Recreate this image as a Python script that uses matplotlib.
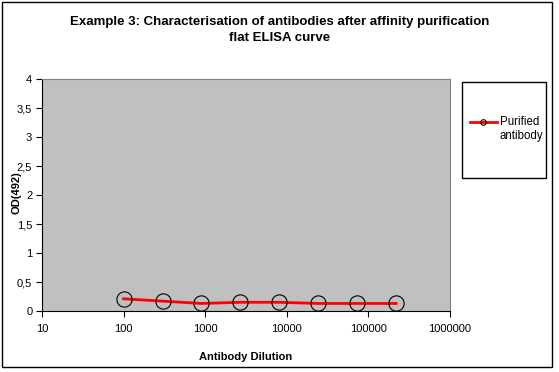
import matplotlib
matplotlib.use("Agg")
import matplotlib.pyplot as plt
from matplotlib.patches import Rectangle
from matplotlib.lines import Line2D
from matplotlib.ticker import FuncFormatter, FixedLocator, NullLocator

# data
dilution = [100, 300, 900, 2700, 8100, 24300, 72900, 218700]
od_492 = [0.21, 0.17, 0.13, 0.15, 0.15, 0.13, 0.13, 0.13]
x_ticks = [10, 100, 1000, 10000, 100000, 1000000]
y_ticks = [0, 0.5, 1, 1.5, 2, 2.5, 3, 3.5, 4]

title = "Example 3: Characterisation of antibodies after affinity purification\nflat ELISA curve"
series_name = "Purified\nantibody"


def comma_decimal(value, _):
    '''Excel style decimal comma'''
    if value == int(value):
        return f'{int(value)}'
    return f'{value:g}'.replace('.', ',')


def main():
    plt.rcParams['font.family'] = ['Liberation Sans', 'DejaVu Sans']
    fig = plt.figure(figsize=(5.59, 3.72), dpi=100)
    W, H = 559, 372

    # outer border of the chart
    fig.patches.append(Rectangle((2 / W, 1 - 367 / H), 550 / W, 365 / H,
                                 transform=fig.transFigure, fill=False,
                                 edgecolor='black', linewidth=1))

    ax = fig.add_axes([42 / W, 1 - 311 / H, 408 / W, 232 / H])
    ax.set_facecolor('#C0C0C0')
    ax.plot(dilution, od_492, color='red', linewidth=2, marker='o',
            markersize=11, markerfacecolor='none', markeredgecolor='black',
            markeredgewidth=0.8, label=series_name, zorder=3)

    ax.set_xscale('log')
    ax.set_xlim(10, 1000000)
    ax.set_ylim(0, 4)
    ax.xaxis.set_major_locator(FixedLocator(x_ticks))
    ax.xaxis.set_minor_locator(NullLocator())
    ax.xaxis.set_major_formatter(FuncFormatter(lambda v, _: f'{int(v)}'))
    ax.set_yticks(y_ticks)
    ax.yaxis.set_major_formatter(FuncFormatter(comma_decimal))
    ax.tick_params(axis='both', direction='out', length=4, width=0.8,
                   labelsize=8, colors='black')
    ax.tick_params(axis='x', pad=5)
    ax.tick_params(axis='y', pad=3)

    for side in ('top', 'right'):
        ax.spines[side].set_color('#808080')
    for side in ('left', 'bottom'):
        ax.spines[side].set_color('black')

    ax.set_xlabel('Antibody Dilution', fontsize=8, fontweight='bold')
    ax.xaxis.set_label_coords(0.5, -(352 - 311) / 232)
    ax.set_ylabel('OD(492)', fontsize=8, fontweight='bold')
    ax.yaxis.set_label_coords(-20 / 408, 0.51)

    fig.text(280 / W, 1 - 30 / H, title, ha='center', va='center',
             fontsize=9.5, fontweight='bold', linespacing=1.4)

    # legend box
    fig.patches.append(Rectangle((462 / W, 1 - 178 / H), 84 / W, 96 / H,
                                 transform=fig.transFigure, fill=False,
                                 edgecolor='black', linewidth=1))
    fig.lines.append(Line2D([470 / W, 497 / W], [1 - 122 / H, 1 - 122 / H],
                            transform=fig.transFigure, color='red',
                            linewidth=2))
    fig.lines.append(Line2D([483.5 / W], [1 - 122 / H],
                            transform=fig.transFigure, marker='o',
                            markersize=4, markerfacecolor='none',
                            markeredgecolor='black', markeredgewidth=0.8))
    fig.text(500 / W, 1 - 116 / H, series_name, ha='left', va='top',
             fontsize=8.3, linespacing=1.25)

    fig.savefig('out.png', dpi=100)


if __name__ == "__main__":
    main()
